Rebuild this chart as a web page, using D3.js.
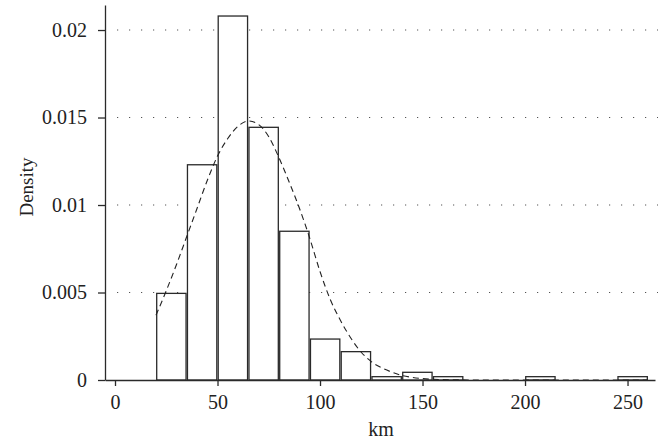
<!DOCTYPE html>
<html>
<head>
<meta charset="utf-8">
<script src="https://cdn.jsdelivr.net/npm/d3@7"></script>
<style>
  body { margin: 0; background: #fff; }
  text { font-family: "Liberation Serif", "DejaVu Serif", serif; fill: #222; }
</style>
</head>
<body>
<svg id="chart" width="658" height="445"></svg>
<script>
// histogram bins (start km) of width 15, density per bin
var binStarts = [20, 35, 50, 65, 80, 95, 110, 125, 140, 155, 200, 245];
var binWidth = 15;
var densities = [0.00495, 0.0123, 0.0208, 0.01444, 0.0085, 0.00234, 0.00162, 0.00019, 0.00044, 0.00019, 0.00019, 0.00019];

// fitted normal curve
var curveKm = [20, 25, 30, 35, 40, 45, 50, 55, 60, 65, 70, 75, 80, 85, 90, 95, 100, 105, 110, 115, 120, 125, 130, 135, 140, 145, 150, 160, 170, 185, 200, 230, 260];
var curveDensity = [0.0037, 0.0051, 0.0066, 0.0082, 0.0098, 0.0114, 0.0128, 0.0138, 0.0145, 0.0148, 0.0146, 0.0139, 0.0127, 0.0113, 0.0098, 0.0081, 0.0062, 0.0046, 0.0034, 0.0024, 0.0016, 0.00105, 0.0007, 0.00045, 0.00026, 0.00015, 0.00008, 0.00002, 0.000005, 0, 0, 0, 0];

var xTicks = [0, 50, 100, 150, 200, 250];
var yTicks = [0, 0.005, 0.01, 0.015, 0.02];
var yTickLabels = ["0", "0.005", "0.01", "0.015", "0.02"];

var svg = d3.select("#chart");
var ink = "#2a2a2a";

var x = d3.scaleLinear().domain([-4.88, 263.4]).range([105, 655]);
var y = d3.scaleLinear().domain([0, 0.02143]).range([380, 5]);

// dotted gridlines
svg.append("g").selectAll("line")
    .data(yTicks.slice(1))
    .enter().append("line")
    .attr("x1", 117).attr("x2", 658)
    .attr("y1", function(d) { return y(d); })
    .attr("y2", function(d) { return y(d); })
    .attr("stroke", "#555")
    .attr("stroke-width", 1.2)
    .attr("stroke-dasharray", "1.2,10.8");

// bars
svg.append("g").selectAll("rect")
    .data(binStarts)
    .enter().append("rect")
    .attr("x", function(d) { return x(d) + 0.7; })
    .attr("width", function(d) { return x(d + binWidth) - x(d) - 1.4; })
    .attr("y", function(d, i) { return y(densities[i]); })
    .attr("height", function(d, i) { return y(0) - y(densities[i]); })
    .attr("fill", "#fff")
    .attr("stroke", ink)
    .attr("stroke-width", 1.3);

// normal curve
var line = d3.line()
    .x(function(d, i) { return x(curveKm[i]); })
    .y(function(d) { return y(d); })
    .curve(d3.curveMonotoneX);

svg.append("path")
    .datum(curveDensity)
    .attr("d", line)
    .attr("fill", "none")
    .attr("stroke", "#222")
    .attr("stroke-width", 1.1)
    .attr("stroke-dasharray", "6,4");

// axes
var xAxis = d3.axisBottom(x).tickValues(xTicks).tickSize(6).tickPadding(9).tickSizeOuter(0);
var gx = svg.append("g").attr("transform", "translate(0,380)").call(xAxis);
gx.select(".domain").attr("stroke", ink).attr("stroke-width", 1.3);
gx.selectAll(".tick line").attr("stroke", ink).attr("stroke-width", 1.3);
gx.selectAll("text").attr("font-size", "20px").attr("fill", "#222")
    .attr("font-family", "Liberation Serif");

var yAxis = d3.axisLeft(y).tickValues(yTicks)
    .tickFormat(function(d, i) { return yTickLabels[i]; })
    .tickSize(7).tickPadding(11).tickSizeOuter(0);
var gy = svg.append("g").attr("transform", "translate(105,0)").call(yAxis);
gy.select(".domain").attr("stroke", ink).attr("stroke-width", 1.3);
gy.selectAll(".tick line").attr("stroke", ink).attr("stroke-width", 1.3);
gy.selectAll("text").attr("font-size", "20px").attr("fill", "#222")
    .attr("font-family", "Liberation Serif");

// axis titles
svg.append("text")
    .attr("x", 381).attr("y", 436)
    .attr("text-anchor", "middle")
    .attr("font-size", "20px")
    .text("km");

svg.append("text")
    .attr("transform", "translate(33,187) rotate(-90)")
    .attr("text-anchor", "middle")
    .attr("font-size", "19px")
    .text("Density");
</script>
</body>
</html>
